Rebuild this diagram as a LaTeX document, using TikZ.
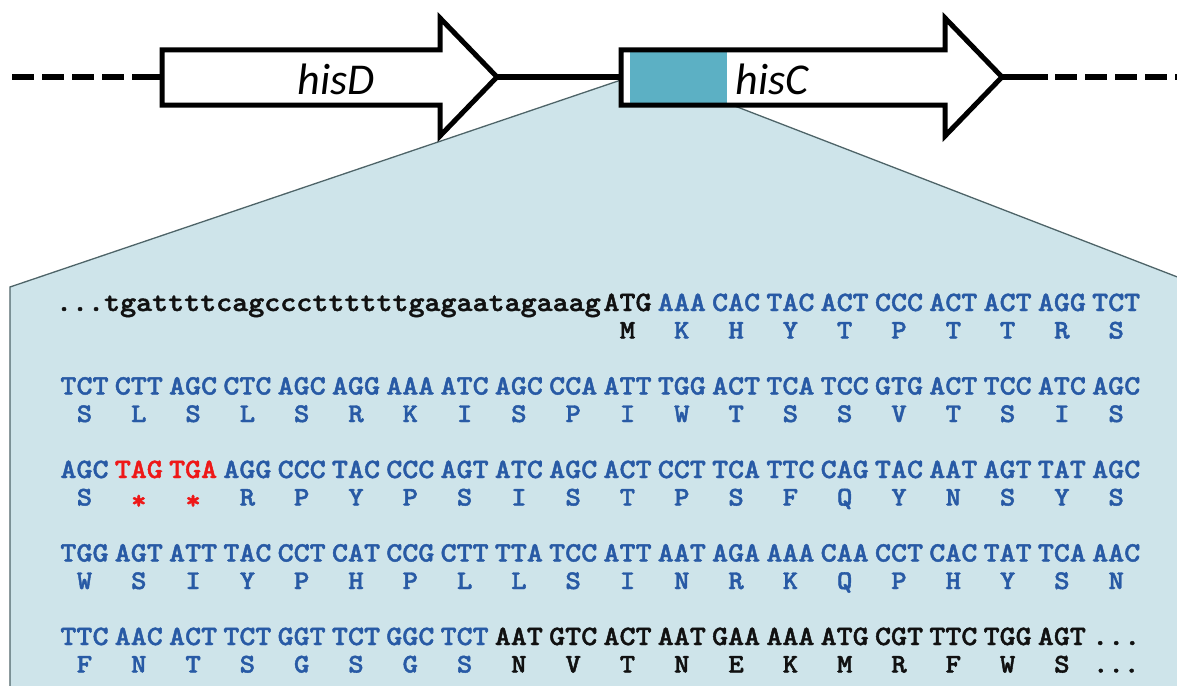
\documentclass[tikz,border=0pt]{standalone}
\usepackage{fontspec}
\usepackage{graphicx}
\newfontfamily\genefont{Carlito}
\newfontfamily\seqfont{lmmonolt10-bold.otf}[FakeBold=1.5]
\definecolor{cb}{RGB}{40,90,165}
\definecolor{ck}{RGB}{17,17,17}
\definecolor{cr}{RGB}{238,24,24}
\definecolor{panelfill}{RGB}{206,228,234}
\definecolor{paneledge}{RGB}{78,100,104}
\definecolor{tealbox}{RGB}{92,176,196}
% monospaced sequence letters, slightly widened
\newcommand\sx[1]{\scalebox{1.09}[1]{#1}}
\newcommand\stopmark{\raisebox{-0.3ex}{*}}
\newcommand\seqdots{...}
\begin{document}
\begin{tikzpicture}[x=1pt,y=-1pt,
  genebody/.style={draw=black,line width=5pt,fill=white,line join=miter},
  backbone/.style={line width=6pt},
  dashbone/.style={line width=6pt,dash pattern=on 22pt off 8pt},
  genelabel/.style={font=\genefont\itshape\fontsize{44}{44}\selectfont,inner sep=0pt},
  codon/.style={font=\seqfont\fontsize{28}{28}\selectfont,inner sep=0pt,anchor=base},
  amino/.style={font=\seqfont\fontsize{27}{27}\selectfont,inner sep=0pt,anchor=base},
]
\useasboundingbox (0,0) rectangle (1177,685);

% zoomed panel behind the genes
\fill[panelfill] (621,80) -- (10,287) -- (10,690) -- (1180,690) -- (1180,278) -- (727,103) -- cycle;
\draw[paneledge,line width=1.3pt] (621,80) -- (10,287) -- (10,690);
\draw[paneledge,line width=1.3pt] (727,103) -- (1180,278);

% backbone
\coordinate (leftend) at (12,77);
\coordinate (leftsolid) at (132,77);
\coordinate (dtail) at (162,77);
\coordinate (dtip) at (497,77);
\coordinate (ctail) at (621,77);
\coordinate (ctip) at (1002,77);
\coordinate (rightsolid) at (1048,77);
\coordinate (rightdash) at (1055,77);
\coordinate (rightend) at (1177,77);
\draw[dashbone] (leftend) -- (leftsolid);
\draw[backbone] (leftsolid) -- (dtail);
\draw[backbone] (dtip) -- (ctail);
\draw[backbone] (ctip) -- (rightsolid);
\draw[dashbone] (rightdash) -- (rightend);

% hisD
\draw[genebody] (162,50) -- (440,50) -- (440,18) -- (dtip) -- (440,136) -- (440,105) -- (162,105) -- cycle;
\node[genelabel] (hisD) at (336,79) {hisD};

% hisC with highlighted start region
\fill[white] (621,50) -- (945,50) -- (945,18) -- (ctip) -- (945,136) -- (945,105) -- (621,105) -- cycle;
\fill[tealbox] (630,52) rectangle (727,103);
\draw[genebody,fill=none] (621,50) -- (945,50) -- (945,18) -- (ctip) -- (945,136) -- (945,105) -- (621,105) -- cycle;
\node[genelabel] (hisC) at (772,79) {hisC};

% sequence rows
\def\xo{84.5}
\def\dx{54.3}
\node[codon,anchor=base east,text=ck] (upstream) at (601,311) {\sx{...tgattttcagcccttttttgagaatagaaag}};

\foreach \cod/\aa/\col [count=\i from 10] in {ATG/M/k,AAA/K/b,CAC/H/b,TAC/Y/b,ACT/T/b,CCC/P/b,ACT/T/b,ACT/T/b,AGG/R/b,TCT/S/b}{
  \node[codon,text=c\col] (ra\i) at ({\xo+\dx*\i},311) {\sx{\cod}};
  \node[amino,text=c\col] (pa\i) at ({\xo+\dx*\i},338.5) {\sx{\aa}};
}
\foreach \cod/\aa/\col [count=\i from 0] in {TCT/S/b,CTT/L/b,AGC/S/b,CTC/L/b,AGC/S/b,AGG/R/b,AAA/K/b,ATC/I/b,AGC/S/b,CCA/P/b,ATT/I/b,TGG/W/b,ACT/T/b,TCA/S/b,TCC/S/b,GTG/V/b,ACT/T/b,TCC/S/b,ATC/I/b,AGC/S/b}{
  \node[codon,text=c\col] (rb\i) at ({\xo+\dx*\i},394.5) {\sx{\cod}};
  \node[amino,text=c\col] (pb\i) at ({\xo+\dx*\i},422) {\sx{\aa}};
}
\foreach \cod/\aa/\col [count=\i from 0] in {AGC/S/b,TAG/\stopmark/r,TGA/\stopmark/r,AGG/R/b,CCC/P/b,TAC/Y/b,CCC/P/b,AGT/S/b,ATC/I/b,AGC/S/b,ACT/T/b,CCT/P/b,TCA/S/b,TTC/F/b,CAG/Q/b,TAC/Y/b,AAT/N/b,AGT/S/b,TAT/Y/b,AGC/S/b}{
  \node[codon,text=c\col] (rc\i) at ({\xo+\dx*\i},478) {\sx{\cod}};
  \node[amino,text=c\col] (pc\i) at ({\xo+\dx*\i},505.5) {\sx{\aa}};
}
\foreach \cod/\aa/\col [count=\i from 0] in {TGG/W/b,AGT/S/b,ATT/I/b,TAC/Y/b,CCT/P/b,CAT/H/b,CCG/P/b,CTT/L/b,TTA/L/b,TCC/S/b,ATT/I/b,AAT/N/b,AGA/R/b,AAA/K/b,CAA/Q/b,CCT/P/b,CAC/H/b,TAT/Y/b,TCA/S/b,AAC/N/b}{
  \node[codon,text=c\col] (rd\i) at ({\xo+\dx*\i},561.5) {\sx{\cod}};
  \node[amino,text=c\col] (pd\i) at ({\xo+\dx*\i},589) {\sx{\aa}};
}
\foreach \cod/\aa/\col [count=\i from 0] in {TTC/F/b,AAC/N/b,ACT/T/b,TCT/S/b,GGT/G/b,TCT/S/b,GGC/G/b,TCT/S/b,AAT/N/k,GTC/V/k,ACT/T/k,AAT/N/k,GAA/E/k,AAA/K/k,ATG/M/k,CGT/R/k,TTC/F/k,TGG/W/k,AGT/S/k,\seqdots/\seqdots/k}{
  \node[codon,text=c\col] (re\i) at ({\xo+\dx*\i},645) {\sx{\cod}};
  \node[amino,text=c\col] (pe\i) at ({\xo+\dx*\i},672.5) {\sx{\aa}};
}
\end{tikzpicture}
\end{document}
